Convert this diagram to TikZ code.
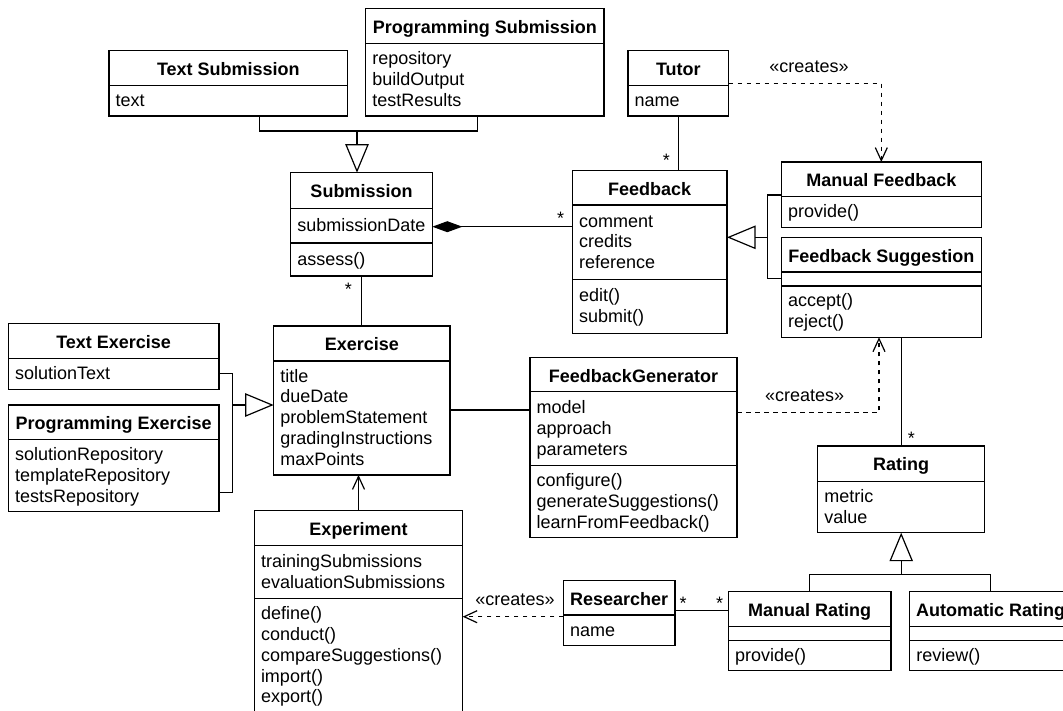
\documentclass[tikz,border=0pt]{standalone}
\usepackage{fontspec}
\setmainfont{Liberation Sans}
\usetikzlibrary{arrows.meta}

% class box: name, left, top, right, bottom (y measured downward)
\newcommand\umlbox[5]{%
  \node[cls, minimum width={#4-#2}, minimum height={#5-#3}, anchor=north west] (#1) at (#2,-#3) {};}
% compartment divider across a class box
\newcommand\umlsep[2]{\draw[boxline] (#1.west |- 0,-#2) -- (#1.east |- 0,-#2);}
% bold class name in the header compartment
\newcommand\umltitle[2]{\node[ctitle] (#1-t) at ([yshift=-24.7pt]#1.north) {#2};}
% member lines: prefix, left, compartment top, compartment bottom, count, items
\newcommand\umlmembers[6]{%
  \foreach \m [count=\i] in {#6}
    \node[member] (#1\i) at ({#2+6.5}, {-((#3+#4)/2-(#5-1)*10.4+5.7+(\i-1)*20.8)}) {\m};}

\tikzset{
  x=1pt, y=1pt,
  basefont/.style={font=\fontsize{18pt}{20.8pt}\selectfont},
  cls/.style={draw, line width=1.2pt, inner sep=0pt, outer sep=0pt, fill=white},
  boxline/.style={line width=1.2pt},
  ctitle/.style={anchor=base, inner sep=0pt, font=\bfseries\fontsize{18pt}{20.8pt}\selectfont},
  member/.style={anchor=base west, inner sep=0pt, basefont},
  mult/.style={anchor=base, inner sep=0pt, basefont},
  lbl/.style={anchor=base, inner sep=0pt, basefont},
  conn/.style={line width=1.2pt},
  gen/.style={conn, -{Triangle[open, length=28.5pt, width=23.4pt]}},
  dep/.style={conn, dash pattern=on 4.5pt off 4.5pt, -{Straight Barb[length=13pt, width=12pt]}},
  nav/.style={conn, -{Straight Barb[length=13pt, width=12pt]}},
  comp/.style={conn, {Diamond[length=30pt, width=11pt]}-},
}

\begin{document}
\begin{tikzpicture}
\useasboundingbox[fill=white] (0,0) rectangle (1063,-710);

% ---------------- submissions ----------------
\umlbox{ts}{109}{50.3}{347.7}{116}
\umlsep{ts}{85.3}
\umltitle{ts}{Text Submission}
\umlmembers{ts-a}{109}{85.3}{116}{1}{text}

\umlbox{ps}{365.7}{8.3}{604}{116}
\umlsep{ps}{43.3}
\umltitle{ps}{Programming Submission}
\umlmembers{ps-a}{365.7}{43.3}{116}{3}{repository,buildOutput,testResults}

\umlbox{sub}{290.7}{172.7}{432.3}{276}
\umlsep{sub}{208.3}
\umlsep{sub}{243}
\umltitle{sub}{Submission}
\umlmembers{sub-a}{290.7}{208.3}{243}{1}{submissionDate}
\umlmembers{sub-m}{290.7}{243}{276}{1}{assess()}

% ---------------- feedback ----------------
\umlbox{tutor}{628}{50.3}{728.7}{116}
\umlsep{tutor}{85.3}
\umltitle{tutor}{Tutor}
\umlmembers{tutor-a}{628}{85.3}{116}{1}{name}

\umlbox{fb}{572.3}{170.3}{727}{333.3}
\umlsep{fb}{205}
\umlsep{fb}{279.3}
\umltitle{fb}{Feedback}
\umlmembers{fb-a}{572.3}{205}{279.3}{3}{comment,credits,reference}
\umlmembers{fb-m}{572.3}{279.3}{333.3}{2}{edit(),submit()}

\umlbox{mf}{781.3}{162}{981.3}{227.3}
\umlsep{mf}{196.7}
\umltitle{mf}{Manual Feedback}
\umlmembers{mf-m}{781.3}{196.7}{227.3}{1}{provide()}

\umlbox{fs}{781.3}{237.3}{981.3}{337.3}
\umlsep{fs}{272}
\umlsep{fs}{286}
\umltitle{fs}{Feedback Suggestion}
\umlmembers{fs-m}{781.3}{286}{337.3}{2}{accept(),reject()}

% ---------------- exercises ----------------
\umlbox{te}{8.3}{323.7}{219}{389.3}
\umlsep{te}{358.7}
\umltitle{te}{Text Exercise}
\umlmembers{te-a}{8.3}{358.7}{389.3}{1}{solutionText}

\umlbox{pe}{8.3}{405}{219}{511.7}
\umlsep{pe}{439.3}
\umltitle{pe}{Programming Exercise}
\umlmembers{pe-a}{8.3}{439.3}{511.7}{3}{solutionRepository,templateRepository,testsRepository}

\umlbox{ex}{273.7}{326}{450}{475}
\umlsep{ex}{361}
\umltitle{ex}{Exercise}
\umlmembers{ex-a}{273.7}{361}{475}{5}{title,dueDate,problemStatement,gradingInstructions,maxPoints}

\umlbox{exp}{254.3}{510.7}{462.7}{713}
\umlsep{exp}{545.7}
\umlsep{exp}{598.3}
\umltitle{exp}{Experiment}
\umlmembers{exp-a}{254.3}{545.7}{598.3}{2}{trainingSubmissions,evaluationSubmissions}
\umlmembers{exp-m}{254.3}{598.3}{713}{5}{define(),conduct(),compareSuggestions(),import(),export()}

\umlbox{fg}{530}{357.7}{737}{537.7}
\umlsep{fg}{391.7}
\umlsep{fg}{465.7}
\umltitle{fg}{FeedbackGenerator}
\umlmembers{fg-a}{530}{391.7}{465.7}{3}{model,approach,parameters}
\umlmembers{fg-m}{530}{465.7}{537.7}{3}{configure(),generateSuggestions(),learnFromFeedback()}

% ---------------- research and ratings ----------------
\umlbox{res}{563.3}{580.3}{675}{645.7}
\umlsep{res}{615}
\umltitle{res}{Researcher}
\umlmembers{res-a}{563.3}{615}{645.7}{1}{name}

\umlbox{rat}{817.7}{446}{984.7}{532.7}
\umlsep{rat}{481.3}
\umltitle{rat}{Rating}
\umlmembers{rat-a}{817.7}{481.3}{532.7}{2}{metric,value}

\umlbox{mr}{728.3}{591.3}{891}{670.7}
\umlsep{mr}{626.3}
\umlsep{mr}{640.3}
\umltitle{mr}{Manual Rating}
\umlmembers{mr-m}{728.3}{640.3}{670.7}{1}{provide()}

\umlbox{ar}{909.7}{591.3}{1071.7}{670.7}
\umlsep{ar}{626.3}
\umlsep{ar}{640.3}
\umltitle{ar}{Automatic Rating}
\umlmembers{ar-m}{909.7}{640.3}{670.7}{1}{review()}

% ---------------- relations ----------------
% submission kinds generalize Submission
\coordinate (gsub) at (357,-131);
\draw[conn] (ts.south -| 259.7,0) |- (gsub) -| (ps.south -| 477.7,0);
\draw[gen] (gsub) -- (gsub |- sub.north);

% Submission owns Feedback
\draw[comp] (sub.east |- 0,-226.7) -- (fb.west |- 0,-226.7);
\node[mult] (m-fb-sub) at (560.7,-224.8) {*};

% Submission -- Exercise
\draw[conn] (sub.south) -- (sub.south |- ex.north);
\node[mult] (m-sub-ex) at (348.3,-295.8) {*};

% Tutor -- Feedback
\draw[conn] (tutor.south) -- (tutor.south |- fb.north);
\node[mult] (m-tut-fb) at (666.3,-166.5) {*};

% Tutor creates Manual Feedback
\draw[dep] (tutor.east |- 0,-83.3) -| (mf.north);
\node[lbl] (l-tut) at (809,-72.4) {«creates»};

% feedback kinds generalize Feedback
\coordinate (gfb) at (767.3,-237.3);
\draw[conn] (mf.west |- 0,-195) -| (gfb) |- (fs.west |- 0,-278.7);
\draw[gen] (gfb) -- (fb.east |- gfb);

% exercise kinds generalize Exercise
\coordinate (gex) at (232.3,-405);
\draw[conn] (te.east |- 0,-373.3) -| (gex) |- (pe.east |- 0,-492.7);
\draw[gen] (gex) -- (ex.west |- gex);

% Exercise -- FeedbackGenerator
\draw[conn] (ex.east |- 0,-410) -- (fg.west |- 0,-410);

% Experiment navigates to Exercise
\draw[nav] (exp.north) -- (exp.north |- ex.south);

% FeedbackGenerator creates Feedback Suggestion
\draw[dep] (fg.east |- 0,-412.3) -| ([xshift=-2.3pt]fs.south);
\node[lbl] (l-fg) at (804.7,-401.4) {«creates»};

% Feedback Suggestion -- Rating
\draw[conn] (rat.north |- fs.south) -- (rat.north);
\node[mult] (m-fs-rat) at (911.3,-444.1) {*};

% rating kinds generalize Rating
\coordinate (grat) at (901.2,-574.7);
\draw[conn] (mr.north) |- (grat) -| (ar.north);
\draw[gen] (grat) -- (rat.south);

% Researcher -- Manual Rating
\draw[conn] (res.east |- 0,-610.7) -- (mr.west |- 0,-610.7);
\node[mult] (m-res) at (683,-609.1) {*};
\node[mult] (m-mr) at (719.7,-609.8) {*};

% Researcher creates Experiment
\draw[dep] (res.west |- 0,-616.7) -- (exp.east |- 0,-616.7);
\node[lbl] (l-res) at (515,-605.7) {«creates»};
\end{tikzpicture}
\end{document}
